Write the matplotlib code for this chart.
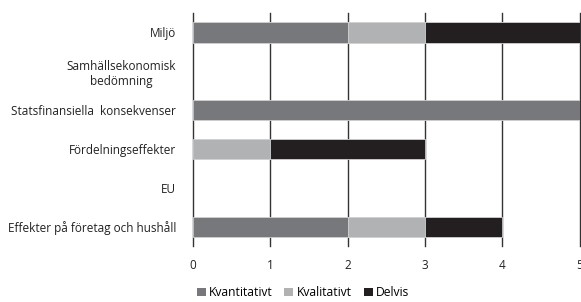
import matplotlib.pyplot as plt
import numpy as np

categories = ["Miljö", "Samhällsekonomisk\nbedömning", "Statsfinansiella  konsekvenser",
              "Fördelningseffekter", "EU", "Effekter på företag och hushåll"]
kvantitativt = [2, 0, 5, 0, 0, 2]
kvalitativt = [1, 0, 0, 1, 0, 1]
delvis = [2, 0, 0, 2, 0, 1]

plt.rcParams['font.family'] = ['Open Sans', 'DejaVu Sans']

fig = plt.figure(figsize=(5.81, 3.02), dpi=100)
ax = fig.add_axes([0.332, 0.185, 0.666, 0.772])

y = np.arange(len(categories))
k1 = np.array(kvantitativt)
k2 = np.array(kvalitativt)
k3 = np.array(delvis)
h = 0.52


def edges(vals):
    return ["#d0d0d0" if v > 0 else "none" for v in vals]


ax.barh(y, k1, height=h, color="#77787b", edgecolor=edges(k1), linewidth=0.6, label="Kvantitativt", zorder=3)
ax.barh(y, k2, left=k1, height=h, color="#b1b2b4", edgecolor=edges(k2), linewidth=0.6, label="Kvalitativt", zorder=3)
ax.barh(y, k3, left=k1 + k2, height=h, color="#231f20", edgecolor=edges(k3), linewidth=0.6, label="Delvis", zorder=3)

ax.set_ylim(len(categories) - 0.5, -0.5)
ax.set_xlim(0, 5)
ax.set_yticks(y)
ax.set_yticklabels(categories, fontsize=8.5, color="#222222")
ax.set_xticks(range(6))
ax.set_xticklabels([str(i) for i in range(6)], fontsize=8.5, color="#222222")
ax.tick_params(axis="both", length=0)
ax.tick_params(axis="y", pad=12)
ax.tick_params(axis="x", pad=9)
for lab in ax.get_yticklabels():
    lab.set_multialignment("center")
for s in ax.spines.values():
    s.set_visible(False)
for xv in range(6):
    ax.axvline(xv, color="#333333", linewidth=1.0, zorder=1, clip_on=False)

leg = ax.legend(loc="center", bbox_to_anchor=(0.284, -0.2), ncol=3, frameon=False,
                fontsize=8.7, handlelength=0.75, handleheight=0.75, handletextpad=0.25,
                columnspacing=1.0, borderaxespad=0, borderpad=0)
for hdl in leg.legend_handles:
    hdl.set_edgecolor("none")

fig.savefig("out.png", dpi=100)
